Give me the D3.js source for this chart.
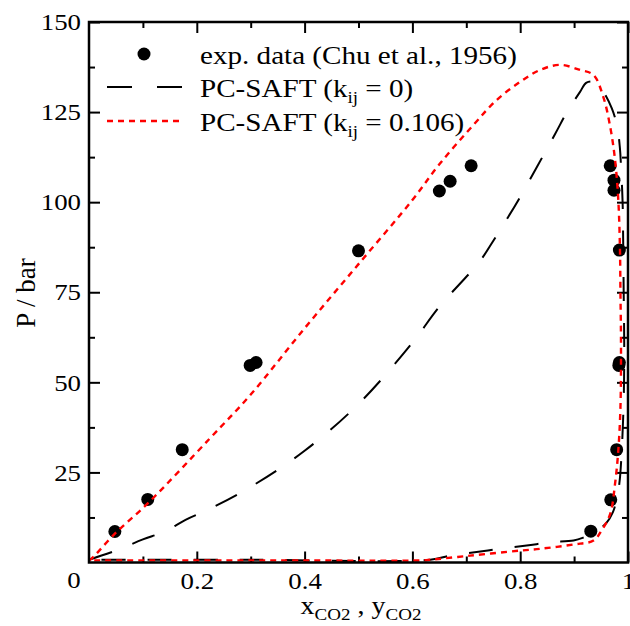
<!DOCTYPE html>
<html>
<head>
<meta charset="utf-8">
<script src="https://cdn.jsdelivr.net/npm/d3@7"></script>
<style>
  body { margin: 0; background: #fff; }
  text { font-family: "Liberation Serif", "Times New Roman", serif; fill: #000; }
</style>
</head>
<body>
<svg id="chart" width="630" height="626"></svg>
<script>
// exp. data (Chu et al., 1956): liquid side x_CO2 and vapour side y_CO2
const expLiqX = [0.048, 0.109, 0.173, 0.299, 0.310, 0.500, 0.650, 0.670, 0.709]
const expLiqP = [8.6, 17.5, 31.3, 54.7, 55.5, 86.5, 103.1, 105.8, 110.1]
const expVapY = [0.931, 0.968, 0.979, 0.983, 0.984, 0.984, 0.974, 0.974, 0.967]
const expVapP = [8.7, 17.4, 31.3, 54.7, 55.5, 86.7, 103.3, 106.1, 110.1]

// PC-SAFT, kij = 0 (bubble branch, then dew branch back down)
const saft0X = [0, 0.05, 0.10, 0.14, 0.18, 0.22, 0.30, 0.40, 0.50, 0.60, 0.65, 0.724, 0.749, 0.774, 0.797,
  0.865, 0.886, 0.911, 0.923, 0.940, 0.955, 0.970, 0.980, 0.985, 0.987, 0.990, 0.991, 0.992, 0.993,
  0.992, 0.988, 0.984, 0.978, 0.972, 0.960, 0.940, 0.917, 0.899, 0.855, 0.812, 0.762, 0.719, 0.670, 0.633, 0.30, 0]
const saft0P = [0.75, 3.3, 6.4, 8.6, 11.9, 14.6, 21, 31, 44, 61, 71, 83.4, 89, 95, 100.7,
  119, 124.8, 130.6, 133.2, 133.3, 130.5, 126, 121, 115, 110, 100, 90, 75, 60,
  45, 30, 22, 17, 14, 11, 8.5, 6.9, 6.1, 5.6, 4.7, 3.8, 2.9, 1.9, 0.75, 0.75, 0.75]

// PC-SAFT, kij = 0.106
const saft1X = [0, 0.005, 0.048, 0.109, 0.224, 0.30, 0.40, 0.50, 0.60, 0.65, 0.713, 0.756, 0.80, 0.837, 0.874,
  0.911, 0.936, 0.954, 0.967, 0.976, 0.982, 0.985, 0.986, 0.987, 0.986, 0.982, 0.976, 0.967, 0.951, 0.936,
  0.899, 0.837, 0.80, 0.707, 0.633, 0.62, 0.30, 0]
const saft1P = [0.6, 1.1, 8.0, 16.4, 34.4, 46.6, 65, 82.8, 100.6, 110.5, 121.4, 128.3, 133.4, 136.7, 138.1,
  136.7, 135.3, 129.3, 120.9, 111.7, 100.6, 87.6, 74.7, 60.8, 43.1, 31.1, 21.9, 13.5, 8.9, 6.1,
  5.0, 3.8, 3.3, 1.9, 0.75, 0.6, 0.6, 0.6]

const xMajor = [0.2, 0.4, 0.6, 0.8, 1]
const xMinor = [0.1, 0.3, 0.5, 0.7, 0.9]
const yMajor = [25, 50, 75, 100, 125, 150]
const yMinor = [12.5, 37.5, 62.5, 87.5, 112.5, 137.5]

const legendNames = ['exp. data (Chu et al., 1956)', 'PC-SAFT (k', 'PC-SAFT (k']
const legendTails = ['', ' = 0)', ' = 0.106)']

const plot = { left: 89, right: 628, top: 22, bottom: 562.5 }
const stretchK = 1.12

const svg = d3.select('#chart')
const x = d3.scaleLinear().domain([0, 1]).range([plot.left, plot.right])
const y = d3.scaleLinear().domain([0, 150]).range([plot.bottom, plot.top])

const stretch = (sel) => sel.each(function () {
  const t = d3.select(this)
  const tx = +t.attr('x') || 0
  t.attr('transform', `translate(${tx},0) scale(${stretchK},1) translate(${-tx},0)`)
})

// ticks, all pointing inward, mirrored on top and right
const addAxis = (axis, tx, ty) => svg.append('g')
  .attr('transform', `translate(${tx},${ty})`)
  .call(axis)
  .call(g => g.select('.domain').remove())
  .call(g => g.selectAll('line').attr('stroke', '#000').attr('stroke-width', 2))

const xb = addAxis(d3.axisBottom(x).tickValues(xMajor).tickSizeInner(-11).tickSizeOuter(0).tickPadding(9)
  .tickFormat(d3.format('~g')), 0, plot.bottom)
xb.selectAll('text').attr('font-size', 24).call(stretch)
addAxis(d3.axisBottom(x).tickValues(xMinor).tickSize(-6).tickFormat(''), 0, plot.bottom)
addAxis(d3.axisTop(x).tickValues(xMajor).tickSize(-11).tickFormat(''), 0, plot.top)
addAxis(d3.axisTop(x).tickValues(xMinor).tickSize(-6).tickFormat(''), 0, plot.top)

const yl = addAxis(d3.axisLeft(y).tickValues(yMajor).tickSizeInner(-11).tickSizeOuter(0).tickPadding(8), plot.left, 0)
yl.selectAll('text').attr('font-size', 24).call(stretch)
addAxis(d3.axisLeft(y).tickValues(yMinor).tickSize(-6).tickFormat(''), plot.left, 0)
addAxis(d3.axisRight(y).tickValues(yMajor).tickSize(-11).tickFormat(''), plot.right, 0)
addAxis(d3.axisRight(y).tickValues(yMinor).tickSize(-6).tickFormat(''), plot.right, 0)

// shared origin label
svg.append('text').attr('x', 74).attr('y', 588).attr('text-anchor', 'middle')
  .attr('font-size', 24).text('0').call(stretch)

// exp. points
const expPts = expLiqX.map((v, i) => [v, expLiqP[i]])
  .concat(expVapY.map((v, i) => [v, expVapP[i]]))
svg.append('g').selectAll('circle').data(expPts).join('circle')
  .attr('cx', d => x(d[0])).attr('cy', d => y(d[1])).attr('r', 6.5).attr('fill', '#000')

const line = d3.line().x(d => x(d[0])).y(d => y(d[1])).curve(d3.curveCatmullRom.alpha(0.5))

svg.append('path')
  .attr('d', line(saft0X.map((v, i) => [v, saft0P[i]])))
  .attr('fill', 'none').attr('stroke', '#000').attr('stroke-width', 2)
  .attr('stroke-dasharray', '24,22')

svg.append('path')
  .attr('d', line(saft1X.map((v, i) => [v, saft1P[i]])))
  .attr('fill', 'none').attr('stroke', '#ff0000').attr('stroke-width', 2.4)
  .attr('stroke-dasharray', '6,5')

// frame
svg.append('rect')
  .attr('x', plot.left).attr('y', plot.top)
  .attr('width', plot.right - plot.left).attr('height', plot.bottom - plot.top)
  .attr('fill', 'none').attr('stroke', '#000').attr('stroke-width', 2.5)

// legend
const legY = [64, 97.5, 131]
const leg = svg.append('g')
leg.append('circle').attr('cx', 144).attr('cy', 54).attr('r', 6.5).attr('fill', '#000')
leg.append('line').attr('x1', 107).attr('x2', 182).attr('y1', 87).attr('y2', 87)
  .attr('stroke', '#000').attr('stroke-width', 2).attr('stroke-dasharray', '25,25')
leg.append('line').attr('x1', 107).attr('x2', 183).attr('y1', 121).attr('y2', 121)
  .attr('stroke', '#ff0000').attr('stroke-width', 2.4).attr('stroke-dasharray', '6,5')

legendNames.forEach((name, i) => {
  const t = leg.append('text').attr('x', 200).attr('y', legY[i]).attr('font-size', 26)
  t.append('tspan').text(name)
  if (legendTails[i]) {
    t.append('tspan').attr('font-size', 17).attr('dy', 6).text('ij')
    t.append('tspan').attr('dy', -6).text(legendTails[i])
  }
  t.call(stretch)
})

// axis titles
svg.append('text')
  .attr('transform', 'translate(35,293) rotate(-90)')
  .attr('text-anchor', 'middle').attr('font-size', 27)
  .text('P / bar')

const xt = svg.append('text').attr('x', 361).attr('y', 614).attr('text-anchor', 'middle').attr('font-size', 25)
xt.append('tspan').text('x')
xt.append('tspan').attr('font-size', 17).attr('dy', 6).text('CO2')
xt.append('tspan').attr('dy', -6).text(' , y')
xt.append('tspan').attr('font-size', 17).attr('dy', 6).text('CO2')
xt.call(stretch)
</script>
</body>
</html>
